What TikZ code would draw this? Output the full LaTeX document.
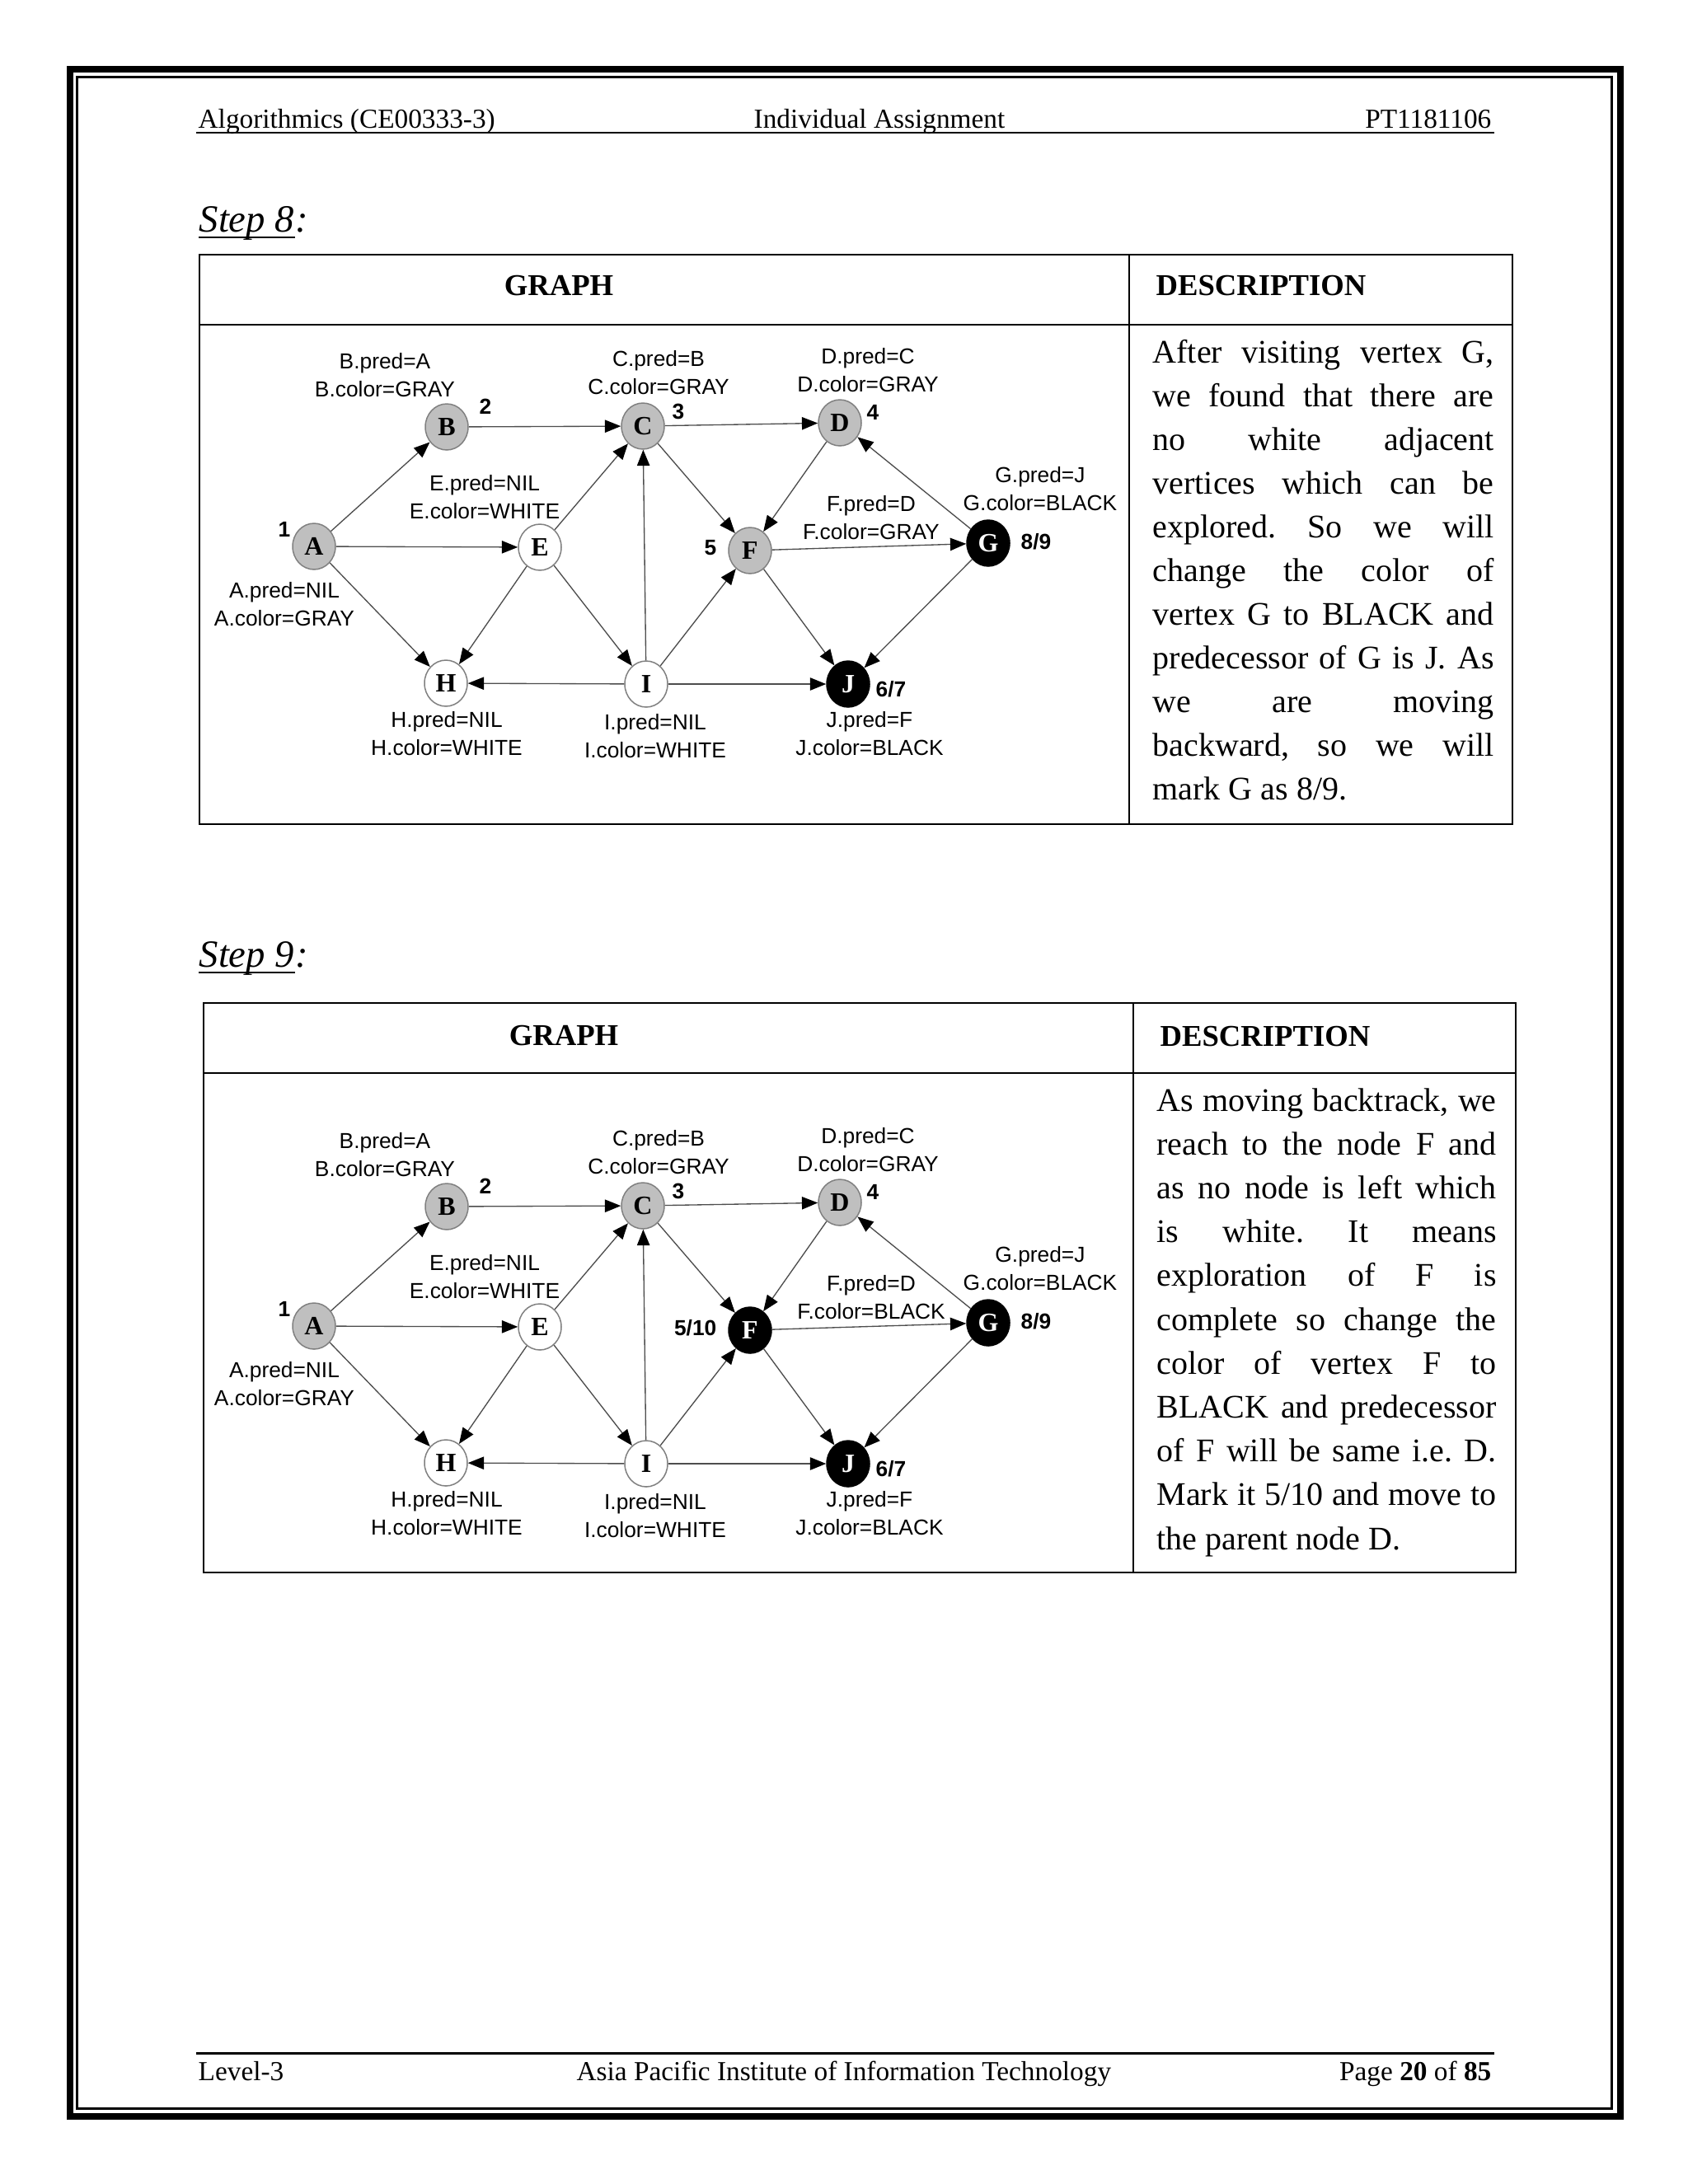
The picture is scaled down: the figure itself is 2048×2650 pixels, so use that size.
\documentclass[tikz,border=0pt]{standalone}
\usepackage{fontspec}
\setmainfont{Liberation Serif}
\setsansfont{Liberation Sans}
\usetikzlibrary{arrows.meta,shapes.geometric}
\definecolor{vfill}{HTML}{BFBFBF}
\definecolor{vrim}{HTML}{808080}
\definecolor{wire}{HTML}{4D4D4D}
\frenchspacing

\tikzset{
  vtx/.style={ellipse,draw=vrim,line width=.45pt,minimum width=15.6pt,minimum height=16.8pt,inner sep=0pt,font=\fontsize{9.6}{11}\selectfont\bfseries},
  vgray/.style={vtx,fill=vfill},
  vwhite/.style={vtx,fill=white},
  vblack/.style={vtx,draw=black,fill=black,text=white},
  lbl/.style={align=center,inner sep=0pt,anchor=base,font=\sffamily\fontsize{7.9}{10}\selectfont},
  num/.style={inner sep=0pt,font=\sffamily\bfseries\fontsize{7.9}{10}\selectfont},
  link/.style={draw=wire,line width=.4pt,-{Triangle[length=5.8pt,width=4.6pt,color=black]}},
  hdr/.style={inner sep=0pt,font=\fontsize{10}{12}\selectfont},
  body/.style={inner sep=0pt,anchor=base west,font=\fontsize{12}{14}\selectfont},
  thead/.style={inner sep=0pt,font=\fontsize{11}{13}\selectfont\bfseries},
  steptitle/.style={inner sep=0pt,anchor=base west,font=\fontsize{14}{16}\selectfont\itshape},
  tbl/.style={line width=.7pt},
}

% #1 step, #2 y offset (px), #3 style of F, #4 colour of F, #5 time of F
\newcommand\dfsgraph[5]{%
\begin{scope}[shift={(0,#2)}]
\node[vgray]  (A#1) at (381,663) {A};
\node[vgray]  (B#1) at (542,518) {B};
\node[vgray]  (C#1) at (780,517) {C};
\node[vgray]  (D#1) at (1019,513) {D};
\node[vwhite] (E#1) at (655,664) {E};
\node[#3]     (F#1) at (910,668) {F};
\node[vblack] (G#1) at (1199,659) {G};
\node[vwhite] (H#1) at (541,829) {H};
\node[vwhite] (I#1) at (784,830) {I};
\node[vblack] (J#1) at (1029,830) {J};
\foreach \u/\v in {A/B,A/E,A/H,B/C,E/C,E/H,E/I,I/C,C/D,C/F,D/F,I/F,I/H,I/J,F/G,F/J,G/D,G/J}
  \draw[link] (\u#1) -- (\v#1);
% discovery / finish times
\node[num] (nA#1) at (345,642) {1};
\node[num] (nB#1) at (589,493) {2};
\node[num] (nC#1) at (823,499) {3};
\node[num] (nD#1) at (1059,500) {4};
\node[num,anchor=east] (nF#1) at (870,665) {#5};
\node[num] (nG#1) at (1257,657) {8/9};
\node[num] (nJ#1) at (1081,836) {6/7};
% pred and colour (placed at the baseline of the second line)
\node[lbl] (lA#1) at (345,759) {A.pred=NIL\\A.color=GRAY};
\node[lbl] (lB#1) at (467,481) {B.pred=A\\B.color=GRAY};
\node[lbl] (lC#1) at (799,478) {C.pred=B\\C.color=GRAY};
\node[lbl] (lD#1) at (1053,475) {D.pred=C\\D.color=GRAY};
\node[lbl] (lE#1) at (588,629) {E.pred=NIL\\E.color=WHITE};
\node[lbl] (lF#1) at (1057,654) {F.pred=D\\F.color=#4};
\node[lbl] (lG#1) at (1262,619) {G.pred=J\\G.color=BLACK};
\node[lbl] (lH#1) at (542,916) {H.pred=NIL\\H.color=WHITE};
\node[lbl] (lI#1) at (795,919) {I.pred=NIL\\I.color=WHITE};
\node[lbl] (lJ#1) at (1055,916) {J.pred=F\\J.color=BLACK};
\end{scope}}

\begin{document}
\begin{tikzpicture}[x=0.3pt,y=-0.3pt]
\useasboundingbox (0,0) rectangle (2048,2650);
\fill[white] (0,0) rectangle (2048,2650);

% page frame
\draw[line width=2.6pt] (85,84) rectangle (1966,2568);
\draw[line width=.8pt] (93.5,93.5) rectangle (1955.5,2558.5);

% header
\node[hdr,anchor=base west] (hl) at (240,155) {Algorithmics (CE00333-3)};
\node[hdr,anchor=base] (hc) at (1067,155) {Individual Assignment};
\node[hdr,anchor=base east] (hr) at (1810,155) {PT1181106};
\draw[line width=.75pt] (238,161) -- (1813,161);

% step 8
\node[steptitle] (st8) at (241,281) {Step 8};
\node[steptitle] (sc8) at (st8.base east) {:};
\draw[line width=.6pt] ([yshift=-2.1pt]st8.base west) -- ([yshift=-2.1pt]st8.base east);
\draw[tbl] (242,309) rectangle (1835,1000);
\draw[tbl] (242,394) -- (1835,394);
\draw[tbl] (1370,309) -- (1370,1000);
\node[thead,anchor=base] (g8) at (678,358) {GRAPH};
\node[thead,anchor=base west] (d8) at (1402,358) {DESCRIPTION};
\dfsgraph{8}{0}{vgray}{GRAY}{5}
\foreach \t [count=\k] in {{After visiting vertex G,},{we found that there are},{no white adjacent},
  {vertices which can be},{explored. So we will},{change the color of},{vertex G to BLACK and},
  {predecessor of G is J. As},{we are moving},{backward, so we will}}
  \node[body] (p8\k) at (1398,{440+53*(\k-1)}) {\makebox[124.2pt][s]{\t}};
\node[body] (p8e) at (1398,970) {mark G as 8/9.};

% step 9
\node[steptitle] (st9) at (241,1173) {Step 9};
\node[steptitle] (sc9) at (st9.base east) {:};
\draw[line width=.6pt] ([yshift=-2.1pt]st9.base west) -- ([yshift=-2.1pt]st9.base east);
\draw[tbl] (247,1217) rectangle (1839,1908);
\draw[tbl] (247,1302) -- (1839,1302);
\draw[tbl] (1375,1217) -- (1375,1908);
\node[thead,anchor=base] (g9) at (684,1268) {GRAPH};
\node[thead,anchor=base west] (d9) at (1407,1269) {DESCRIPTION};
\dfsgraph{9}{946}{vblack}{BLACK}{5/10}
\foreach \t [count=\k] in {{As moving backtrack, we},{reach to the node F and},{as no node is left which},
  {is white. It means},{exploration of F is},{complete so change the},{color of vertex F to},
  {BLACK and predecessor},{of F will be same i.e. D.},{Mark it 5/10 and move to}}
  \node[body] (p9\k) at (1403,{1348+53.2*(\k-1)}) {\makebox[123.6pt][s]{\t}};
\node[body] (p9e) at (1403,1880) {the parent node D.};

% footer
\draw[line width=.9pt] (238,2491) -- (1813,2491);
\node[hdr,anchor=base west] (fl) at (240,2524) {Level-3};
\node[hdr,anchor=base west] (fc) at (699,2524) {Asia Pacific Institute of Information Technology};
\node[hdr,anchor=base east] (fr) at (1810,2524) {Page \textbf{20} of \textbf{85}};
\end{tikzpicture}
\end{document}
